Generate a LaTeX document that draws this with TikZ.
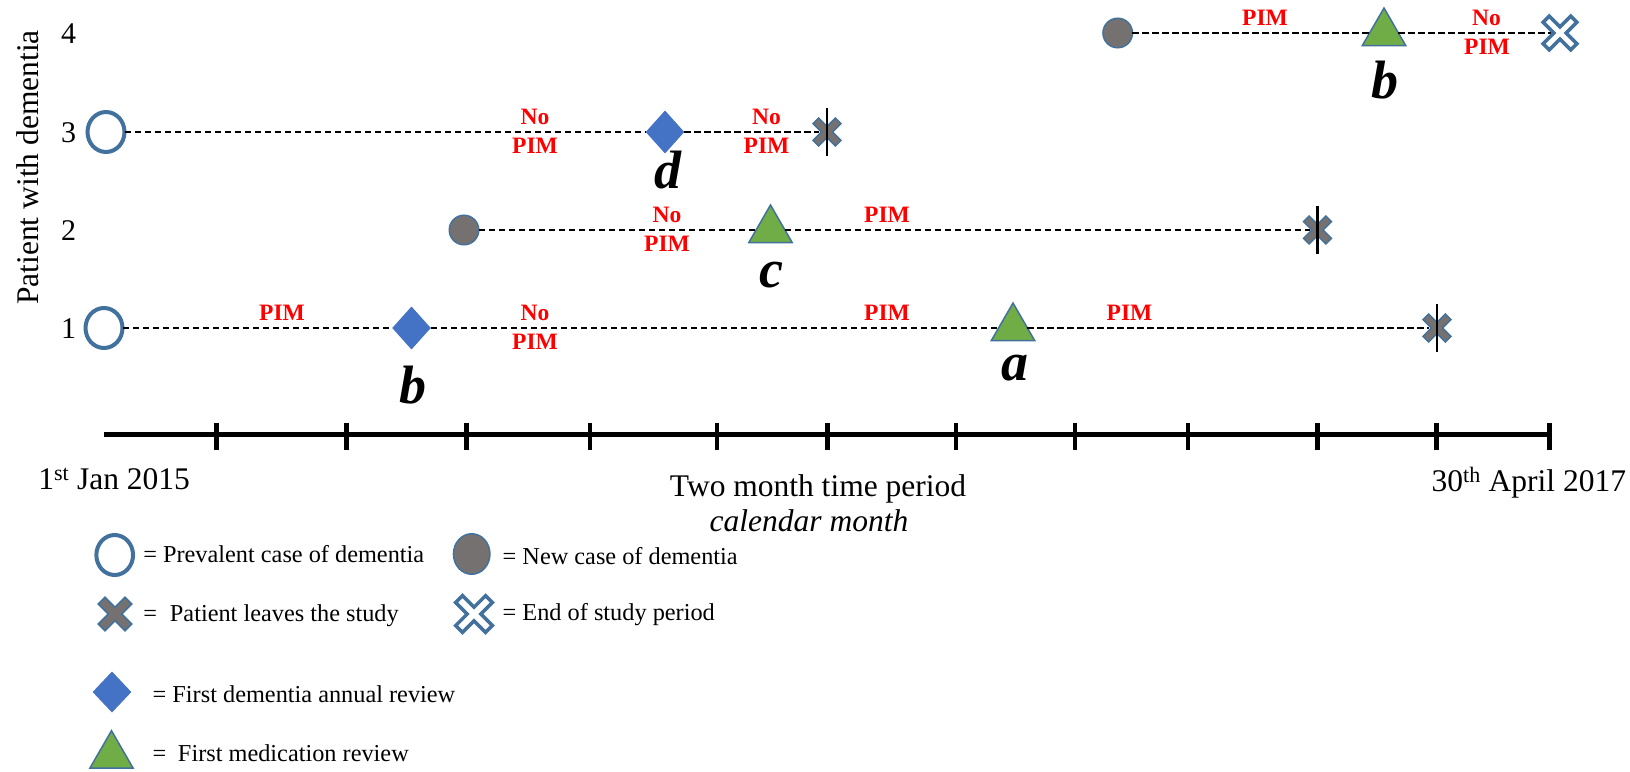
\documentclass[tikz,border=0pt]{standalone}
\usepackage{fontspec}
\setmainfont{Liberation Serif}
\usetikzlibrary{shapes.geometric}

\definecolor{rimblue}{HTML}{41719C}
\definecolor{newgrey}{HTML}{767171}
\definecolor{revblue}{HTML}{4472C4}
\definecolor{medgreen}{HTML}{70AD47}
\definecolor{pimred}{HTML}{FF0000}

\tikzset{
  every node/.style={inner sep=0pt, outer sep=0pt},
  prevalent/.style={ellipse, draw=rimblue, line width=4pt, fill=white,
    minimum width=37pt, minimum height=40pt},
  newcase/.style={ellipse, draw=rimblue, line width=1.5pt, fill=newgrey,
    minimum width=29.5pt, minimum height=29.5pt},
  annual/.style={diamond, fill=revblue, minimum width=38.5pt, minimum height=43pt},
  medrev/.style={regular polygon, regular polygon sides=3, draw=rimblue,
    line width=1.5pt, fill=medgreen, minimum size=50pt},
  endpt/.style={circle, minimum size=16pt},
  follow/.style={draw=black, line width=2.7pt, dash pattern=on 6.5pt off 3.5pt},
  pimtext/.style={text=pimred, font=\fontsize{23.5}{24}\selectfont\bfseries, anchor=base},
  reviewtag/.style={font=\fontsize{54}{54}\selectfont\bfseries\itshape, anchor=base},
  axistext/.style={font=\fontsize{31.5}{36}\selectfont, anchor=base},
  rowtext/.style={font=\fontsize{30}{36}\selectfont, anchor=base},
  keytext/.style={font=\fontsize{24.3}{28}\selectfont, anchor=base west},
  leaves/.style={fill=newgrey, draw=rimblue, line width=1.5pt},
  studyend/.style={fill=white, draw=rimblue, line width=3.5pt},
  exitbar/.style={draw=black, line width=2.5pt},
  axisline/.style={draw=black, line width=5pt},
  tickmark/.style={draw=black, line width=4.5pt},
  pics/crossmark/.style 2 args={code={
    \path[rotate=45, pic actions] (#2,#1) -- (#2,#2) -- (#1,#2) -- (#1,-#2)
      -- (#2,-#2) -- (#2,-#1) -- (-#2,-#1) -- (-#2,-#2) -- (-#1,-#2)
      -- (-#1,#2) -- (-#2,#2) -- (-#2,#1) -- cycle;
  }},
}

\begin{document}
\begin{tikzpicture}[x=1pt, y=-1pt, line join=miter]
\useasboundingbox (0,0) rectangle (1630,771);

% ---- patient timelines: events ----
% patient 1
\node[prevalent] (p1) at (104,328) {};
\node[annual] (r1) at (411.5,328) {};
\node[medrev] (m1) at (1013,328) {};
\node[endpt] (x1) at (1437,328) {};
% patient 2
\node[newcase] (n2) at (464,230) {};
\node[medrev] (m2) at (770.5,230) {};
\node[endpt] (x2) at (1317.5,230) {};
% patient 3
\node[prevalent] (p3) at (106,132) {};
\node[annual] (r3) at (665,132) {};
\node[endpt] (x3) at (827,132) {};
% patient 4
\node[newcase] (n4) at (1117.7,33) {};
\node[medrev] (m4) at (1384,33) {};
\node[endpt] (e4) at (1560,33) {};

% ---- follow-up periods ----
\draw[follow] (p1) -- (r1) -- (m1) -- (x1);
\draw[follow] (n2) -- (m2) -- (x2);
\draw[follow] (p3) -- (r3) -- (x3);
\draw[follow] (n4) -- (m4) -- (e4);

% ---- exits and end of study ----
\pic[leaves] at (x1) {crossmark={15.8}{4}};
\pic[leaves] at (x2) {crossmark={15.8}{4}};
\pic[leaves] at (x3) {crossmark={15.8}{4}};
\pic[studyend] at (e4) {crossmark={19.5}{4.3}};
\draw[exitbar] ([yshift=24pt]x1.center) -- ([yshift=-24pt]x1.center);
\draw[exitbar] ([yshift=24pt]x2.center) -- ([yshift=-24pt]x2.center);
\draw[exitbar] ([yshift=24pt]x3.center) -- ([yshift=-24pt]x3.center);

% ---- PIM status labels ----
\node[pimtext] (s1a) at (282,320) {PIM};
\node[pimtext] (s1b) at (535,320) {No};
\node[pimtext] (s1c) at (535,349) {PIM};
\node[pimtext] (s1d) at (887,320) {PIM};
\node[pimtext] (s1e) at (1129.5,320) {PIM};
\node[pimtext] (s2a) at (667,222) {No};
\node[pimtext] (s2b) at (667,251) {PIM};
\node[pimtext] (s2c) at (887,222) {PIM};
\node[pimtext] (s3a) at (535,124) {No};
\node[pimtext] (s3b) at (535,153) {PIM};
\node[pimtext] (s3c) at (766.5,124) {No};
\node[pimtext] (s3d) at (766.5,153) {PIM};
\node[pimtext] (s4a) at (1265,25) {PIM};
\node[pimtext] (s4b) at (1486.5,25) {No};
\node[pimtext] (s4c) at (1487,54) {PIM};

% ---- review type tags ----
\node[reviewtag] (ta) at (1015,380) {a};
\node[reviewtag] (tb1) at (413,403) {b};
\node[reviewtag] (tc) at (771,287) {c};
\node[reviewtag] (td) at (668,188.5) {d};
\node[reviewtag] (tb4) at (1385,98.3) {b};

% ---- vertical axis ----
\node[rowtext] (y4) at (68.5,43) {4};
\node[rowtext] (y3) at (68.5,142) {3};
\node[rowtext] (y2) at (68.5,240) {2};
\node[rowtext] (y1) at (68.5,338) {1};
\node[axistext, rotate=90] (ytitle) at (38.6,167.5) {Patient with dementia};

% ---- time axis ----
\coordinate (axL) at (104,434);
\coordinate (axR) at (1549.5,434);
\draw[axisline] (axL) -- (axR);
\foreach \t in {216.7,346.7,466.7,590,717,827.5,956,1075,1188,1317.3,1436.5,1549.5}
  \draw[tickmark] (\t,422.5) -- (\t,449.5);
\node[axistext, anchor=base west] (tstart) at (38.3,489.3) {1\textsuperscript{st} Jan 2015};
\node[axistext] (tunit) at (818,496.7) {Two month time period};
\node[axistext] (tunit2) at (809,531.7) {\itshape calendar month};
\node[axistext, anchor=base east] (tend) at (1626,491.7) {30\textsuperscript{th} April 2017};

% ---- key ----
\node[prevalent, minimum width=36.7pt, minimum height=40pt] (kP) at (114.7,555) {};
\node[keytext] (kPt) at (143.3,562.7) {= Prevalent case of dementia};
\node[newcase, minimum width=36.5pt, minimum height=40.5pt] (kN) at (471.7,554) {};
\node[keytext] (kNt) at (502.7,564) {= New case of dementia};
\node[endpt] (kX) at (115,614) {};
\pic[leaves] at (kX) {crossmark={18.9}{4.8}};
\node[keytext] (kXt) at (143.3,621.7) {=\hspace{13pt}Patient leaves the study};
\node[endpt] (kE) at (474,614) {};
\pic[studyend] at (kE) {crossmark={21.1}{4.8}};
\node[keytext] (kEt) at (502.7,620.7) {= End of study period};
\node[annual, minimum width=38.7pt, minimum height=41pt] (kD) at (112,692) {};
\node[keytext] (kDt) at (152.7,702.7) {= First dementia annual review};
\node[medrev] (kT) at (111.5,755.7) {};
\node[keytext] (kTt) at (152.7,761.7) {=\hspace{11.6pt}First medication review};
\end{tikzpicture}
\end{document}
